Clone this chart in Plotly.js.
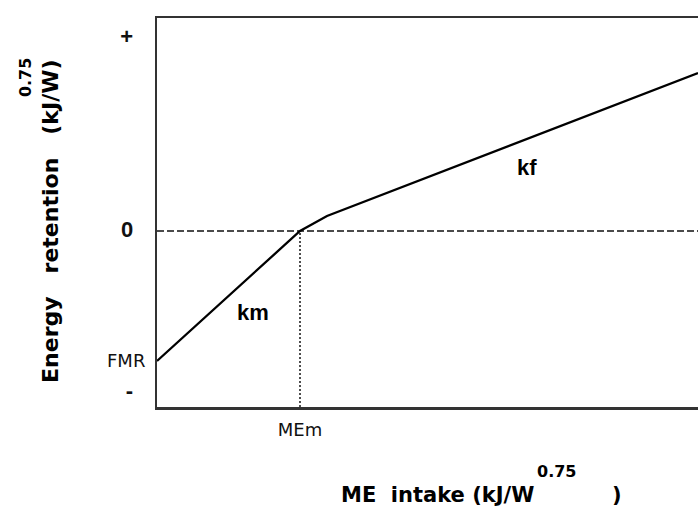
<!DOCTYPE html>
<html>
<head>
<meta charset="utf-8">
<script src="https://cdn.plot.ly/plotly-3.0.1.min.js"></script>
<style>html,body{margin:0;padding:0;background:#fff}</style>
</head>
<body>
<div id="chart" style="width:698px;height:508px"></div>
<script>
// Energy retention as a function of ME intake:
// slope km below maintenance, slope kf above it.
const intake = [0, 1.43, 1.70, 5.41];
const retention = [-1.30, 0, 0.15, 1.58];
const meMaintenance = 1.43;   // MEm: intake at which retention is zero
const fastingLoss = -1.30;    // FMR: retention at zero intake
const yTickVals = [1.93, 0, fastingLoss, -1.61];
const yTickText = ['+', '0', 'FMR', '-'];
const xTickVals = [meMaintenance];
const xTickText = ['MEm'];
const segmentLabels = ['km', 'kf'];
const segmentLabelX = [0.96, 3.70];
const segmentLabelY = [-0.81, 0.64];

const xRange = [0, 5.41];
const yRange = [-1.76, 2.13];

const NB = '\u00a0';
const boldSpan = s => '<span style="font-family:Liberation Sans;font-weight:bold;font-size:22px">' + s + NB + NB + '</span>';
const yTickStyled = yTickText.map(t => (t === 'FMR' ? t : boldSpan(t)));

const traces = [
  { // zero-retention reference
    x: xRange, y: [0, 0], mode: 'lines',
    line: {color: '#111', width: 1.6, dash: '7px,3px'}, hoverinfo: 'skip'
  },
  { // maintenance intake marker
    x: [meMaintenance, meMaintenance], y: [yRange[0], 0], mode: 'lines',
    line: {color: '#222', width: 1.6, dash: '2px,2px'}, hoverinfo: 'skip'
  },
  { // response line
    x: intake, y: retention, mode: 'lines',
    line: {color: '#000', width: 2.3}
  }
];

const xTitleFont = {family: 'DejaVu Sans', size: 21, color: '#000', weight: 'bold'};
const yTitleFont = {family: 'DejaVu Sans', size: 22, color: '#000', weight: 'bold'};
const supFont = {family: 'DejaVu Sans', size: 16, color: '#000', weight: 'bold'};

const annotations = segmentLabels.map((t, i) => ({
  x: segmentLabelX[i], y: segmentLabelY[i], xref: 'x', yref: 'y',
  xanchor: 'center', yanchor: 'middle',
  text: t, showarrow: false,
  font: {family: 'Liberation Sans', size: 22, color: '#000', weight: 'bold'}
}));

const paperText = (x, y, text, font, angle) => ({
  xref: 'paper', yref: 'paper', x: x, y: y, xanchor: 'center', yanchor: 'middle',
  text: text, textangle: angle || 0, showarrow: false, font: font, borderpad: 0
});

annotations.push(
  paperText(0.519, -0.226, 'ME' + NB + NB + 'intake' + NB + '(kJ/W', xTitleFont),
  paperText(0.850, -0.226, ')', xTitleFont),
  paperText(0.739, -0.167, '0.75', supFont),
  paperText(-0.198, 0.478, 'Energy' + NB + NB + NB + 'retention' + NB + NB + NB + '(kJ/W)', yTitleFont, -90),
  paperText(-0.244, 0.848, '0.75', supFont, -90)
);

const layout = {
  width: 698, height: 508,
  margin: {l: 157, r: 0, t: 18, b: 101},
  paper_bgcolor: '#fff', plot_bgcolor: '#fff',
  showlegend: false,
  xaxis: {
    range: xRange, showgrid: false, zeroline: false,
    showline: true, mirror: true, linecolor: '#333', linewidth: 2.5,
    tickvals: xTickVals, ticktext: xTickText, ticks: '',
    ticklabelstandoff: 5,
    tickfont: {family: 'DejaVu Sans', size: 18, color: '#111'}
  },
  yaxis: {
    range: yRange, showgrid: false, zeroline: false,
    showline: true, linecolor: '#333', linewidth: 2,
    tickvals: yTickVals, ticktext: yTickStyled, ticks: '',
    ticklabelstandoff: 6,
    tickfont: {family: 'DejaVu Sans', size: 18, color: '#111'}
  },
  annotations: annotations
};

Plotly.newPlot('chart', traces, layout, {displayModeBar: false, staticPlot: true});
</script>
</body>
</html>
